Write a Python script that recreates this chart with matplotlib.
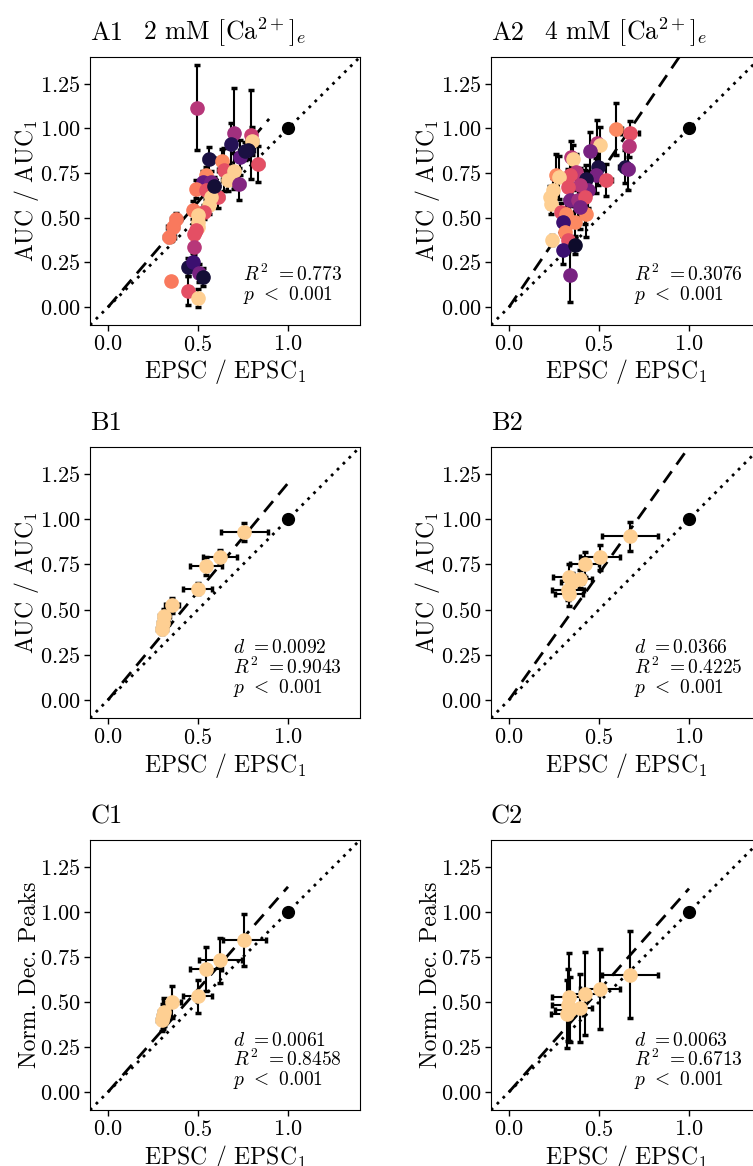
import matplotlib
matplotlib.use('Agg')
import matplotlib.pyplot as plt

plt.rcParams['font.family'] = 'serif'
plt.rcParams['font.serif'] = ['cmr10']
plt.rcParams['mathtext.fontset'] = 'cm'
plt.rcParams['axes.formatter.use_mathtext'] = True

# ---- A1: 2 mM, AUC vs EPSC (colour = cell) ----
a1_x = [0.494, 0.70, 0.794, 0.80, 0.683, 0.563, 0.735, 0.831, 0.631, 0.643, 0.70, 0.665,
        0.726, 0.544, 0.526, 0.572, 0.489, 0.544, 0.609, 0.572, 0.563, 0.535, 0.470, 0.498,
        0.498, 0.498, 0.489, 0.480, 0.378, 0.359, 0.341, 0.476, 0.443, 0.470, 0.507, 0.526,
        0.35, 0.443, 0.498, 0.78, 0.76, 0.59]
a1_y = [1.117, 0.974, 0.965, 0.93, 0.913, 0.829, 0.838, 0.80, 0.816, 0.768, 0.76, 0.709,
        0.69, 0.737, 0.70, 0.70, 0.662, 0.653, 0.616, 0.616, 0.570, 0.532, 0.542, 0.514,
        0.477, 0.449, 0.43, 0.412, 0.495, 0.449, 0.393, 0.338, 0.226, 0.254, 0.193, 0.171,
        0.148, 0.093, 0.05, 0.88, 0.875, 0.68]
a1_xerr = [0.02, 0.02, 0.02, 0.03, 0.02, 0.03, 0.03, 0.03, 0.02, 0.03, 0.03, 0.03,
           0.03, 0.02, 0.03, 0.03, 0.02, 0.02, 0.03, 0.02, 0.02, 0.02, 0.02, 0.02,
           0.02, 0.02, 0.02, 0.02, 0.03, 0.03, 0.03, 0.02, 0.02, 0.02, 0.02, 0.02,
           0.02, 0.02, 0.02, 0.03, 0.03, 0.02]
a1_yerr = [0.24, 0.25, 0.25, 0.08, 0.12, 0.07, 0.10, 0.10, 0.07, 0.12, 0.10, 0.06,
           0.09, 0.05, 0.06, 0.06, 0.05, 0.05, 0.06, 0.05, 0.05, 0.04, 0.05, 0.04,
           0.04, 0.04, 0.04, 0.04, 0.03, 0.03, 0.03, 0.04, 0.05, 0.05, 0.05, 0.05,
           0.01, 0.08, 0.05, 0.05, 0.05, 0.05]
a1_tone = [0.5, 0.45, 0.55, 0.9, 0.15, 0.12, 0.3, 0.62, 0.75, 0.62, 0.9, 0.9,
           0.38, 0.75, 0.3, 0.35, 0.72, 0.62, 0.62, 0.9, 0.9, 0.62, 0.72, 0.9,
           0.9, 0.9, 0.62, 0.62, 0.72, 0.72, 0.72, 0.5, 0.12, 0.2, 0.35, 0.1,
           0.72, 0.62, 0.9, 0.1, 0.12, 0.1]

# ---- A2: 4 mM, AUC vs EPSC ----
a2_x = [0.596, 0.670, 0.665, 0.643, 0.661, 0.49, 0.507, 0.452, 0.494, 0.485, 0.541, 0.346,
        0.356, 0.374, 0.341, 0.263, 0.278, 0.43, 0.44, 0.396, 0.328, 0.244, 0.226, 0.235,
        0.337, 0.383, 0.42, 0.43, 0.393, 0.291, 0.319, 0.365, 0.337, 0.30, 0.309, 0.328,
        0.239, 0.30, 0.365, 0.337]
a2_y = [0.996, 0.972, 0.90, 0.787, 0.774, 0.917, 0.909, 0.872, 0.783, 0.737, 0.712, 0.838,
        0.829, 0.755, 0.737, 0.737, 0.727, 0.718, 0.653, 0.681, 0.672, 0.653, 0.616, 0.579,
        0.597, 0.597, 0.616, 0.523, 0.56, 0.532, 0.523, 0.477, 0.477, 0.477, 0.421, 0.375,
        0.375, 0.319, 0.347, 0.18]
a2_xerr = [0.03, 0.05, 0.02, 0.03, 0.03, 0.02, 0.02, 0.02, 0.02, 0.02, 0.03, 0.02,
           0.02, 0.02, 0.02, 0.02, 0.02, 0.02, 0.02, 0.02, 0.02, 0.02, 0.02, 0.02,
           0.02, 0.02, 0.02, 0.02, 0.02, 0.02, 0.02, 0.02, 0.02, 0.02, 0.02, 0.02,
           0.02, 0.02, 0.02, 0.02]
a2_yerr = [0.145, 0.07, 0.06, 0.09, 0.12, 0.13, 0.10, 0.11, 0.10, 0.10, 0.09, 0.09,
           0.08, 0.10, 0.10, 0.12, 0.12, 0.08, 0.10, 0.10, 0.10, 0.07, 0.06, 0.06,
           0.10, 0.12, 0.15, 0.13, 0.12, 0.05, 0.08, 0.09, 0.09, 0.08, 0.08, 0.06,
           0.03, 0.08, 0.05, 0.15]
a2_tone = [0.75, 0.62, 0.5, 0.12, 0.35, 0.5, 0.9, 0.35, 0.12, 0.35, 0.62, 0.5,
           0.9, 0.5, 0.62, 0.75, 0.9, 0.12, 0.35, 0.5, 0.62, 0.9, 0.9, 0.9,
           0.35, 0.45, 0.62, 0.75, 0.35, 0.62, 0.75, 0.75, 0.75, 0.2, 0.75, 0.62,
           0.9, 0.2, 0.08, 0.35]

# ---- B1 / B2: averaged AUC vs EPSC ----
b1_x = [0.757, 0.624, 0.544, 0.498, 0.356, 0.313, 0.307, 0.30]
b1_y = [0.928, 0.79, 0.74, 0.615, 0.523, 0.464, 0.427, 0.394]
b1_xerr = [0.13, 0.095, 0.09, 0.08, 0.04, 0.03, 0.03, 0.03]
b1_yerr = [0.05, 0.04, 0.05, 0.03, 0.04, 0.04, 0.03, 0.03]

b2_x = [0.674, 0.504, 0.42, 0.393, 0.333, 0.35, 0.328, 0.333]
b2_y = [0.906, 0.79, 0.751, 0.667, 0.68, 0.655, 0.611, 0.589]
b2_xerr = [0.155, 0.11, 0.08, 0.07, 0.09, 0.06, 0.09, 0.08]
b2_yerr = [0.08, 0.07, 0.07, 0.05, 0.07, 0.05, 0.06, 0.07]

# ---- C1 / C2: normalised deconvolved peaks vs EPSC ----
c1_x = [0.757, 0.624, 0.544, 0.498, 0.356, 0.313, 0.307, 0.30]
c1_y = [0.846, 0.731, 0.683, 0.531, 0.50, 0.444, 0.42, 0.40]
c1_xerr = [0.12, 0.12, 0.09, 0.08, 0.05, 0.03, 0.03, 0.03]
c1_yerr = [0.145, 0.125, 0.12, 0.09, 0.09, 0.08, 0.07, 0.06]

c2_x = [0.674, 0.504, 0.42, 0.393, 0.331, 0.328, 0.337, 0.322]
c2_y = [0.652, 0.572, 0.546, 0.467, 0.526, 0.485, 0.457, 0.433]
c2_xerr = [0.155, 0.11, 0.08, 0.07, 0.09, 0.09, 0.08, 0.09]
c2_yerr = [0.24, 0.22, 0.23, 0.19, 0.245, 0.2, 0.18, 0.19]

avg_tone = 0.9

# regression lines through origin: slope, x end
fit_slope = {'A1': 1.177, 'A2': 1.48, 'B1': 1.2, 'B2': 1.4, 'C1': 1.14, 'C2': 1.13}
fit_end = {'A1': 0.895, 'A2': 1.0, 'B1': 1.0, 'B2': 1.0, 'C1': 1.0, 'C2': 1.0}

stats = {
    'A1': r'$R^2$ $=0.773$' + '\n' + r'$p$ $<$ $0.001$',
    'A2': r'$R^2$ $=0.3076$' + '\n' + r'$p$ $<$ $0.001$',
    'B1': r'$d$ $=0.0092$' + '\n' + r'$R^2$ $=0.9043$' + '\n' + r'$p$ $<$ $0.001$',
    'B2': r'$d$ $=0.0366$' + '\n' + r'$R^2$ $=0.4225$' + '\n' + r'$p$ $<$ $0.001$',
    'C1': r'$d$ $=0.0061$' + '\n' + r'$R^2$ $=0.8458$' + '\n' + r'$p$ $<$ $0.001$',
    'C2': r'$d$ $=0.0063$' + '\n' + r'$R^2$ $=0.6713$' + '\n' + r'$p$ $<$ $0.001$',
}

W, H = 753, 1166
fig = plt.figure(figsize=(W / 100, H / 100), dpi=100)
cmap = matplotlib.colormaps['magma']


def make_ax(left_px, top_px, w_px=270, h_px=269):
    return fig.add_axes([left_px / W, 1 - (top_px + h_px) / H, w_px / W, h_px / H])


def draw_panel(ax, name, xs, ys, xerr, yerr, tones, ylabel, title=None):
    ax.plot([-0.1, 1.4], [-0.1, 1.4], color='k', ls=(0, (1, 2)), lw=2, zorder=1)
    ax.plot([0, fit_end[name]], [0, fit_slope[name] * fit_end[name]], color='k',
            ls=(0, (5, 3)), lw=2, zorder=1)
    for x, y, xe, ye, t in zip(xs, ys, xerr, yerr, tones):
        c = cmap(t)
        ax.errorbar(x, y, xerr=xe, yerr=ye, fmt='o', ms=9.5, mfc=c, mec=c,
                    ecolor='k', elinewidth=1.5, capsize=2.5, capthick=2.5, zorder=3)
    ax.plot(1, 1, 'o', color='k', ms=8.5, zorder=4)
    ax.set_xlim(-0.1, 1.4)
    ax.set_ylim(-0.1, 1.4)
    ax.set_xticks([0, 0.5, 1.0])
    ax.set_yticks([0, 0.25, 0.5, 0.75, 1.0, 1.25])
    ax.tick_params(labelsize=16, length=4, width=1, pad=3)
    ax.set_xlabel(r'EPSC / EPSC$_1$', fontsize=17, labelpad=2)
    ax.set_ylabel(ylabel, fontsize=17, labelpad=-1)
    ax.set_title(name, loc='left', fontsize=19, pad=12)
    if title:
        ax.set_title(title, loc='center', fontsize=18.5, pad=12)
    ax.text(0.932, 0.07, stats[name], transform=ax.transAxes, ha='right', va='bottom',
            multialignment='left', fontsize=14, linespacing=0.95)


axA1 = make_ax(90, 57, h_px=268)
draw_panel(axA1, 'A1', a1_x, a1_y, a1_xerr, a1_yerr, a1_tone, r'AUC / AUC$_1$',
           r'2 mM $[\mathrm{Ca}^{2+}]_e$')
axA2 = make_ax(491, 57, h_px=268)
draw_panel(axA2, 'A2', a2_x, a2_y, a2_xerr, a2_yerr, a2_tone, r'AUC / AUC$_1$',
           r'4 mM $[\mathrm{Ca}^{2+}]_e$')

axB1 = make_ax(90, 447, h_px=271)
draw_panel(axB1, 'B1', b1_x, b1_y, b1_xerr, b1_yerr, [avg_tone] * len(b1_x), r'AUC / AUC$_1$')
axB2 = make_ax(491, 447, h_px=271)
draw_panel(axB2, 'B2', b2_x, b2_y, b2_xerr, b2_yerr, [avg_tone] * len(b2_x), r'AUC / AUC$_1$')

axC1 = make_ax(90, 840, h_px=270)
draw_panel(axC1, 'C1', c1_x, c1_y, c1_xerr, c1_yerr, [avg_tone] * len(c1_x), 'Norm. Dec. Peaks')
axC2 = make_ax(491, 840, h_px=270)
draw_panel(axC2, 'C2', c2_x, c2_y, c2_xerr, c2_yerr, [avg_tone] * len(c2_x), 'Norm. Dec. Peaks')

fig.savefig('out.png', dpi=100)
